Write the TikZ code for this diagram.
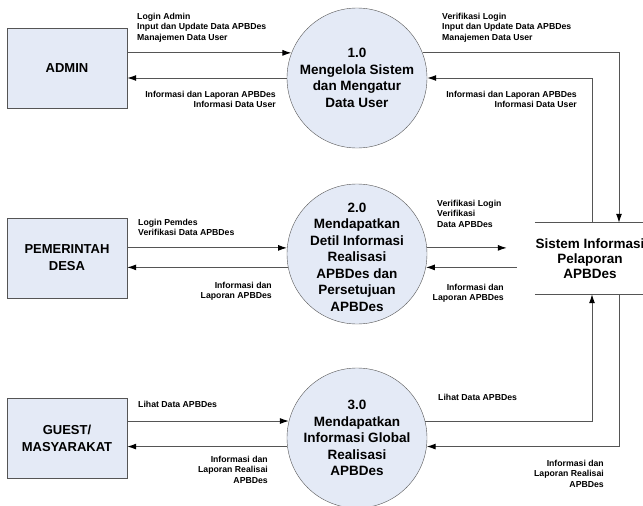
\documentclass[tikz,border=0pt]{standalone}
\usepackage{fontspec}
\setmainfont{Liberation Sans}
\usetikzlibrary{arrows.meta}
\definecolor{procfill}{RGB}{228,234,246}
\definecolor{edgegray}{RGB}{85,85,85}
\tikzset{
	ent/.style = {
		shape=rectangle,
		draw=edgegray,
		fill=procfill,
		align=center,
		minimum width=120pt,
		minimum height=80pt,
		font=\bfseries\fontsize{13}{17}\selectfont
	},
	proc/.style = {
		shape=circle,
		draw=edgegray,
		fill=procfill,
		minimum size=140pt,
		inner sep=0pt
	},
	proctext/.style = {
		align=center,
		inner sep=0pt,
		font=\bfseries\fontsize{13.5}{16.5}\selectfont
	},
	datastore/.style = {
		shape=rectangle,
		align=center,
		inner sep=0pt,
		minimum width=110pt,
		minimum height=71pt,
		font=\bfseries\fontsize{13.5}{15}\selectfont
	},
	flow/.style = {
		draw=edgegray,
		line width=1pt,
		-{Latex[length=9pt,width=6pt,color=black]}
	},
	lbl/.style = {
		align=left,
		inner sep=0pt,
		font=\bfseries\fontsize{8.7}{10.5}\selectfont
	}
}
\begin{document}
\begin{tikzpicture}[x=1pt, y=-1pt]
		\useasboundingbox (0,0) rectangle (643,506);
		% external entities
		\node[ent] (admin) at (67,68) {ADMIN};
		\node[ent] (pemdes) at (67,258) {PEMERINTAH\\DESA};
		\node[ent] (guest) at (67,438) {GUEST/\\MASYARAKAT};
		% processes
		\node[proc, label={[proctext]center:{1.0\\Mengelola Sistem\\dan Mengatur\\Data User}}] (proc1) at (357,78) {};
		\node[proc, label={[proctext, yshift=-3pt]center:{2.0\\Mendapatkan\\Detil Informasi\\Realisasi\\APBDes dan\\Persetujuan\\APBDes}}] (proc2) at (357,254) {};
		\node[proc, label={[proctext]center:{3.0\\Mendapatkan\\Informasi Global\\Realisasi\\APBDes}}] (proc3) at (357,438) {};
		% data store
		\node[datastore] (store) at (590,258.5) {Sistem Informasi\\Pelaporan\\APBDes};
		\draw[edgegray, line width=1pt] (store.north west) -- (store.north east);
		\draw[edgegray, line width=1pt] (store.south west) -- (store.south east);
		\coordinate (s1) at ([xshift=2pt]store.north);
		\coordinate (s2) at ([xshift=29pt]store.north);
		\coordinate (s3) at ([xshift=2pt]store.south);
		\coordinate (s4) at ([xshift=29pt]store.south);
		\path (store.west |- proc2.5) ++(-28,0) coordinate (p2out);
		\path (store.west |- proc2.-11) ++(-18,0) coordinate (p2in);
		% flows
		\draw[flow] (admin.east |- proc1.159) -- (proc1.159);
		\draw[flow] (proc1.west) -- (admin.east |- proc1.west);
		\draw[flow] (pemdes.east |- proc2.175) -- (proc2.175);
		\draw[flow] (proc2.191) -- (pemdes.east |- proc2.191);
		\draw[flow] (guest.east |- proc3.166) -- (proc3.166);
		\draw[flow] (proc3.187) -- (guest.east |- proc3.187);
		\draw[flow] (proc1.21) -| (s2);
		\draw[flow] (s1) |- (proc1.east);
		\draw[flow] (proc2.5) -- (p2out);
		\draw[flow] (p2in) -- (proc2.-11);
		\draw[flow] (proc3.14) -| (s3);
		\draw[flow] (s4) |- (proc3.-7);
		% flow labels
		\node[lbl, anchor=north west] (l1) at (137,12.5) {Login Admin\\Input dan Update Data APBDes\\Manajemen Data User};
		\node[lbl, align=right, anchor=north east] (l2) at (276,90.5) {Informasi dan Laporan APBDes\\Informasi Data User};
		\node[lbl, anchor=north west] (l3) at (442,12.5) {Verifikasi Login\\Input dan Update Data APBDes\\Manajemen Data User};
		\node[lbl, align=right, anchor=north east] (l4) at (577,90.5) {Informasi dan Laporan APBDes\\Informasi Data User};
		\node[lbl, anchor=north west] (l5) at (138,218.5) {Login Pemdes\\Verifikasi Data APBDes};
		\node[lbl, align=right, anchor=north east] (l6) at (272,281.5) {Informasi dan\\Laporan APBDes};
		\node[lbl, anchor=north west] (l7) at (437,199.5) {Verifikasi Login\\Verifikasi\\Data APBDes};
		\node[lbl, align=right, anchor=north east] (l8) at (504,283.5) {Informasi dan\\Laporan APBDes};
		\node[lbl, anchor=north west] (l9) at (138,400.5) {Lihat Data APBDes};
		\node[lbl, align=right, anchor=north east] (l10) at (268,455.5) {Informasi dan\\Laporan Realisai\\APBDes};
		\node[lbl, anchor=north west] (l11) at (438,393.5) {Lihat Data APBDes};
		\node[lbl, align=right, anchor=north east] (l12) at (604,459.5) {Informasi dan\\Laporan Realisai\\APBDes};
		\end{tikzpicture}
\end{document}
